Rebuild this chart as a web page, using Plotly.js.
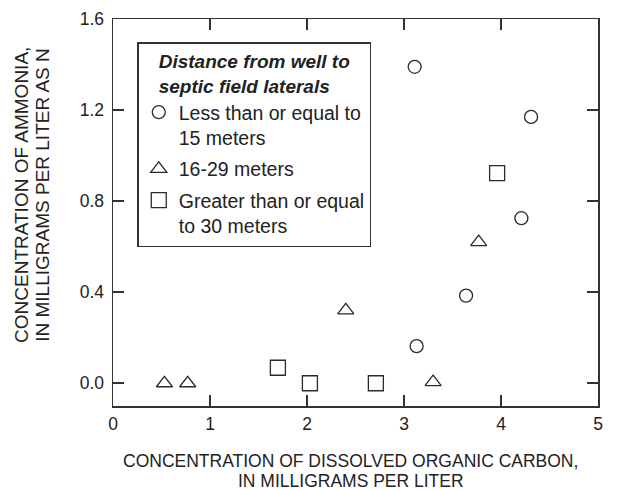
<!DOCTYPE html>
<html>
<head>
<meta charset="utf-8">
<script src="https://cdn.plot.ly/plotly-3.0.1.min.js"></script>
<style>html,body{margin:0;padding:0;background:#fff;}#chart{width:620px;height:490px;}</style>
</head>
<body>
<div id="chart"></div>
<script>
// Distance classes
var seriesNames = ["Less than or equal to<br>15 meters", "16-29 meters", "Greater than or equal<br>to 30 meters"];
// Dissolved organic carbon (mg/L) and ammonia (mg/L as N)
var docNear = [3.11, 4.31, 4.21, 3.64, 3.13];
var nh3Near = [1.39, 1.17, 0.725, 0.385, 0.163];
var docMid = [0.53, 0.77, 2.40, 3.30, 3.77];
var nh3Mid = [0.0, 0.0, 0.32, 0.005, 0.62];
var docFar = [1.70, 2.03, 2.71, 3.96];
var nh3Far = [0.068, 0.0, 0.0, 0.923];
var xTicks = [0, 1, 2, 3, 4, 5];
var yTicks = [0.0, 0.4, 0.8, 1.2, 1.6];
var yTickText = ["0.0", "0.4", "0.8", "1.2", "1.6"];
var xTitleLines = ["CONCENTRATION OF DISSOLVED ORGANIC CARBON,", "IN MILLIGRAMS PER LITER"];
var yTitleLines = ["CONCENTRATION OF AMMONIA,", "IN MILLIGRAMS PER LITER AS N"];
var legendTitle = "<b><i>Distance from well to<br>septic field laterals</i></b>";

var ink = "#2b2b2b";
var fontFam = "Liberation Sans, Arial, Helvetica, sans-serif";

function mk(x, y, name, sym, size, grp) {
  return {
    type: "scatter", mode: "markers", x: x, y: y, name: name,
    legendgroup: grp,
    marker: {symbol: sym, size: size, color: ink, line: {color: ink, width: 1.3}},
    cliponaxis: false, hoverinfo: "x+y"
  };
}

var traces = [
  mk(docNear, nh3Near, seriesNames[0], "circle-open", 13, "a"),
  mk(docMid, nh3Mid, seriesNames[1], "triangle-up-open", 14, "b"),
  mk(docFar, nh3Far, seriesNames[2], "square-open", 15, "c")
];

var axBase = {
  showgrid: false, zeroline: false, showline: true, linecolor: "#333", linewidth: 1.5,
  mirror: "ticks", ticks: "inside", ticklen: 11, tickwidth: 1.5, tickcolor: "#333",
  tickfont: {family: fontFam, size: 17.5, color: "#222"}
};

var xTitleFont = {family: fontFam, size: 17.5, color: "#222"};
var yTitleFont = {family: fontFam, size: 19, color: "#222"};
var annotations = [
  {xref: "paper", yref: "paper", x: 0.49, y: -0.143, xanchor: "center", yanchor: "middle", text: xTitleLines[0], showarrow: false, font: xTitleFont},
  {xref: "paper", yref: "paper", x: 0.49, y: -0.194, xanchor: "center", yanchor: "middle", text: xTitleLines[1], showarrow: false, font: xTitleFont},
  {xref: "paper", yref: "paper", x: -0.190, y: 0.545, xanchor: "center", yanchor: "middle", textangle: -90, text: yTitleLines[0], showarrow: false, font: yTitleFont},
  {xref: "paper", yref: "paper", x: -0.147, y: 0.545, xanchor: "center", yanchor: "middle", textangle: -90, text: yTitleLines[1], showarrow: false, font: yTitleFont}
];

var layout = {
  width: 620, height: 490,
  margin: {l: 113, r: 22, t: 19, b: 84},
  paper_bgcolor: "#fff", plot_bgcolor: "#fff",
  font: {family: fontFam, size: 17, color: "#222"},
  showlegend: true,
  xaxis: Object.assign({}, axBase, {
    range: [0, 5], tickvals: xTicks, ticktext: xTicks.map(String),
    ticklabelstandoff: 1
  }),
  yaxis: Object.assign({}, axBase, {
    range: [-0.1, 1.6], tickvals: yTicks, ticktext: yTickText,
    ticklabelstandoff: 4
  }),
  annotations: annotations,
  legend: {
    x: 0.05, y: 0.9405, xanchor: "left", yanchor: "top",
    bgcolor: "#fff", bordercolor: "#333", borderwidth: 1.5,
    font: {family: fontFam, size: 19.5, color: "#222"},
    valign: "top",
    tracegroupgap: 3,
    title: {text: legendTitle, side: "top center", font: {family: fontFam, size: 19, color: "#222"}}
  }
};

Plotly.newPlot("chart", traces, layout, {displayModeBar: false, staticPlot: true});
</script>
</body>
</html>
